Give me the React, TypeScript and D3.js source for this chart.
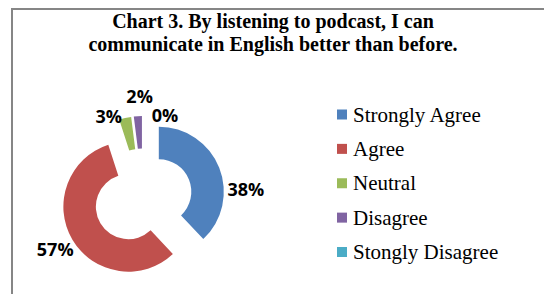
import { useEffect, useRef } from "react"
import * as d3 from "d3"

// Survey answers for chart 3 (percent of respondents)
const categories = ["Strongly Agree", "Agree", "Neutral", "Disagree", "Stongly Disagree"]
const values = [38, 57, 3, 2, 0]
const colors = ["#4F81BD", "#C0504D", "#9BBB59", "#8064A2", "#4BACC6"]
const titleLines = ["Chart 3. By listening to podcast, I can", "communicate in English better than before."]

// manual label nudges (labels were dragged around in the original)
const labelNudge: Record<string, [number, number]> = {
  "Strongly Agree": [8, 29],
  Agree: [0, 0],
  Neutral: [-12, 18],
  Disagree: [3, 0],
  "Stongly Disagree": [22, 20],
}

export default function App() {
  const svgRef = useRef<SVGSVGElement>(null)

  useEffect(() => {
    if (!svgRef.current) return
    d3.select(svgRef.current).selectAll("*").remove()

    const width = 544
    const height = 294
    const svg = d3.select(svgRef.current).attr("width", width).attr("height", height)

    // chart frame (only top and left edges are visible in the crop)
    svg.append("line")
      .attr("x1", 11).attr("y1", 9).attr("x2", width).attr("y2", 9)
      .attr("stroke", "#868686").attr("stroke-width", 2)
    svg.append("line")
      .attr("x1", 12).attr("y1", 8).attr("x2", 12).attr("y2", height)
      .attr("stroke", "#868686").attr("stroke-width", 2)

    // title
    svg.selectAll(".title")
      .data(titleLines)
      .join("text")
      .attr("class", "title")
      .attr("x", 273)
      .attr("y", (d, i) => 28 + i * 23)
      .attr("text-anchor", "middle")
      .attr("font-family", "'Liberation Serif', 'Times New Roman', serif")
      .attr("font-weight", "bold")
      .attr("font-size", "20px")
      .attr("fill", "#000")
      .text((d) => d)

    // doughnut
    const cx = 143
    const cy = 198
    const outerR = 65
    const innerR = 32.5
    const explode = 17
    const data = categories.map((c, i) => ({ name: c, value: values[i], color: colors[i] }))
    const pie = d3.pie<any>().sort(null).value((d) => d.value)
    const arcs = pie(data)
    const arc = d3.arc<any>().innerRadius(innerR).outerRadius(outerR)
    const labelArc = d3.arc<any>().innerRadius(85).outerRadius(85)
    const explodeArc = d3.arc<any>().innerRadius(explode).outerRadius(explode)

    const g = svg.append("g").attr("transform", `translate(${cx},${cy})`)

    g.selectAll(".slice")
      .data(arcs.filter((d) => d.value > 0))
      .join("path")
      .attr("class", "slice")
      .attr("transform", (d) => `translate(${explodeArc.centroid(d)})`)
      .attr("d", arc)
      .attr("fill", (d) => d.data.color)

    g.selectAll(".pct")
      .data(arcs)
      .join("text")
      .attr("class", "pct")
      .attr("x", (d) => explodeArc.centroid(d)[0] + labelArc.centroid(d)[0] + labelNudge[d.data.name][0])
      .attr("y", (d) => explodeArc.centroid(d)[1] + labelArc.centroid(d)[1] + labelNudge[d.data.name][1])
      .attr("dy", "0.36em")
      .attr("text-anchor", "middle")
      .attr("font-family", "'Open Sans', 'Liberation Sans', sans-serif")
      .attr("font-weight", "bold")
      .attr("font-size", "18px")
      .attr("fill", "#000")
      .text((d) => `${d.data.value}%`)

    // legend
    const legendY = d3.scalePoint<string>().domain(categories).range([114.5, 252])
    const legend = svg.selectAll(".legend")
      .data(data)
      .join("g")
      .attr("class", "legend")
      .attr("transform", (d) => `translate(337,${legendY(d.name)})`)
    legend.append("rect")
      .attr("x", 0).attr("y", -5).attr("width", 10).attr("height", 10)
      .attr("fill", (d) => d.color)
    legend.append("text")
      .attr("x", 16)
      .attr("y", 7)
      .attr("font-family", "'Liberation Serif', 'Times New Roman', serif")
      .attr("font-size", "21px")
      .attr("fill", "#000")
      .text((d) => d.name)
  }, [])

  return <svg ref={svgRef} style={{ position: "absolute", left: 0, top: 0, display: "block", background: "#fff" }} />
}
